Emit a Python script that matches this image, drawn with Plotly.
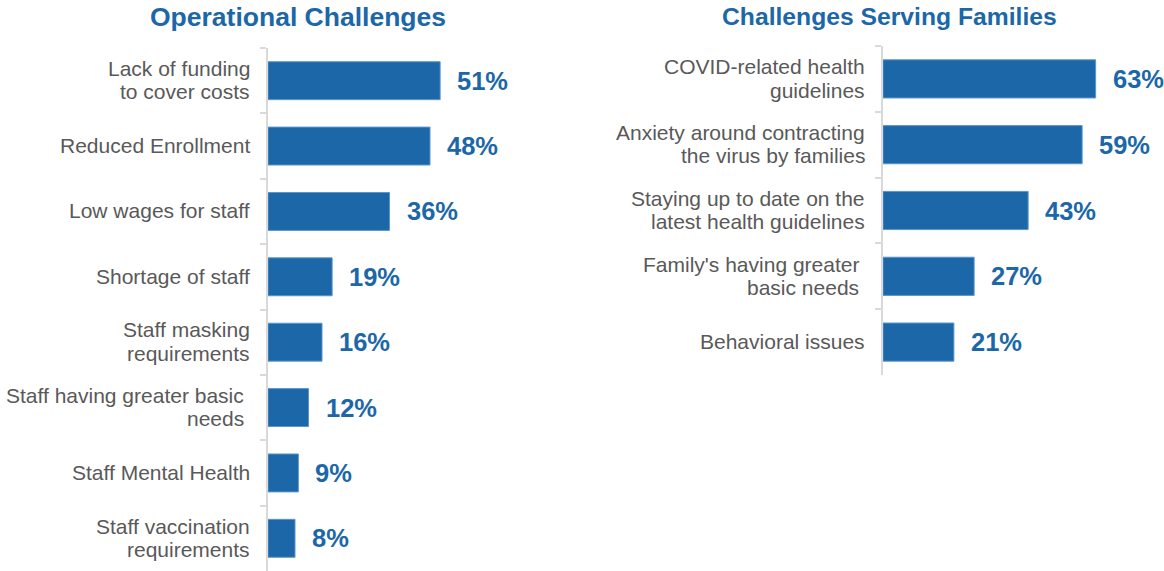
import plotly.graph_objects as go

# Operational challenges (left panel)
ops_labels = [
    "Lack of funding<br>to cover costs",
    "Reduced Enrollment",
    "Low wages for staff",
    "Shortage of staff",
    "Staff masking<br>requirements",
    "Staff having greater basic\u00a0<br>needs\u00a0",
    "Staff Mental Health",
    "Staff vaccination<br>requirements",
]
ops_values = [51, 48, 36, 19, 16, 12, 9, 8]

# Challenges serving families (right panel)
fam_labels = [
    "COVID-related health<br>guidelines",
    "Anxiety around contracting<br>the virus by families",
    "Staying up to date on the<br>latest health guidelines",
    "Family's having greater\u00a0<br>basic needs\u00a0",
    "Behavioral issues",
]
fam_values = [63, 59, 43, 27, 21]

BLUE = "#1c67a8"
EDGE = "#5a95cc"
GRID = "#d9d9d9"
LABEL = "#595959"
FONT = "Liberation Sans, Arial, sans-serif"

W, H = 1164, 571
PX_PER_PCT = 3.375
XMAX = 70
LINE_GAP = 23.5  # spacing between the lines of a wrapped category label

fig = go.Figure()

fig.add_trace(go.Bar(
    x=ops_values, y=ops_labels, orientation="h",
    marker=dict(color=BLUE, line=dict(color=EDGE, width=1)),
    width=0.58, xaxis="x", yaxis="y", hoverinfo="skip",
))
fig.add_trace(go.Bar(
    x=fam_values, y=fam_labels, orientation="h",
    marker=dict(color=BLUE, line=dict(color=EDGE, width=1)),
    width=0.58, xaxis="x2", yaxis="y2", hoverinfo="skip",
))

annotations = []
for xref, yref, labels, values in (("x", "y", ops_labels, ops_values),
                                   ("x2", "y2", fam_labels, fam_values)):
    for lab, v in zip(labels, values):
        # value label just past the end of the bar
        annotations.append(dict(
            x=v, y=lab, xref=xref, yref=yref, text=f"{v}%",
            showarrow=False, xanchor="left", yanchor="middle", xshift=15,
            font=dict(family=FONT, size=25.5, color=BLUE, weight="bold"),
        ))
        # category label, right-aligned to the left of the axis line
        lines = lab.split("<br>")
        n = len(lines)
        for i, line in enumerate(lines):
            shift = ((n - 1) / 2 - i) * LINE_GAP + 0.5
            annotations.append(dict(
                x=0, y=lab, xref=xref, yref=yref, text=line,
                showarrow=False, xanchor="right", yanchor="middle",
                xshift=-17, yshift=shift, borderpad=0,
                font=dict(family=FONT, size=21, color=LABEL),
            ))

annotations.append(dict(
    x=298 / W, y=1 - 17 / H, xref="paper", yref="paper",
    text="<b>Operational Challenges</b>", showarrow=False,
    xanchor="center", yanchor="middle",
    font=dict(family=FONT, size=26.5, color=BLUE),
))
annotations.append(dict(
    x=890 / W, y=1 - 17 / H, xref="paper", yref="paper",
    text="<b>Challenges Serving Families</b>", showarrow=False,
    xanchor="center", yanchor="middle",
    font=dict(family=FONT, size=24.7, color=BLUE),
))

left_x0 = 268
right_x0 = 883
span = XMAX * PX_PER_PCT

yaxis_common = dict(
    type="category", autorange="reversed", tickson="boundaries",
    ticks="outside", ticklen=6, tickwidth=1.5, tickcolor=GRID,
    showline=True, linecolor=GRID, linewidth=2, showgrid=False,
    zeroline=False, showticklabels=False,
)
xaxis_common = dict(range=[0, XMAX], visible=False, fixedrange=True)

fig.update_layout(
    width=W, height=H,
    margin=dict(l=0, r=0, t=0, b=0),
    paper_bgcolor="white", plot_bgcolor="white",
    showlegend=False, bargap=0.4,
    xaxis=dict(domain=[left_x0 / W, (left_x0 + span) / W], anchor="y", **xaxis_common),
    yaxis=dict(domain=[0, 1 - 48 / H], anchor="x", **yaxis_common),
    xaxis2=dict(domain=[right_x0 / W, (right_x0 + span) / W], anchor="y2", **xaxis_common),
    yaxis2=dict(domain=[1 - 375 / H, 1 - 46 / H], anchor="x2", **yaxis_common),
    annotations=annotations,
)

fig.write_html("out.html", config={"displayModeBar": False})
